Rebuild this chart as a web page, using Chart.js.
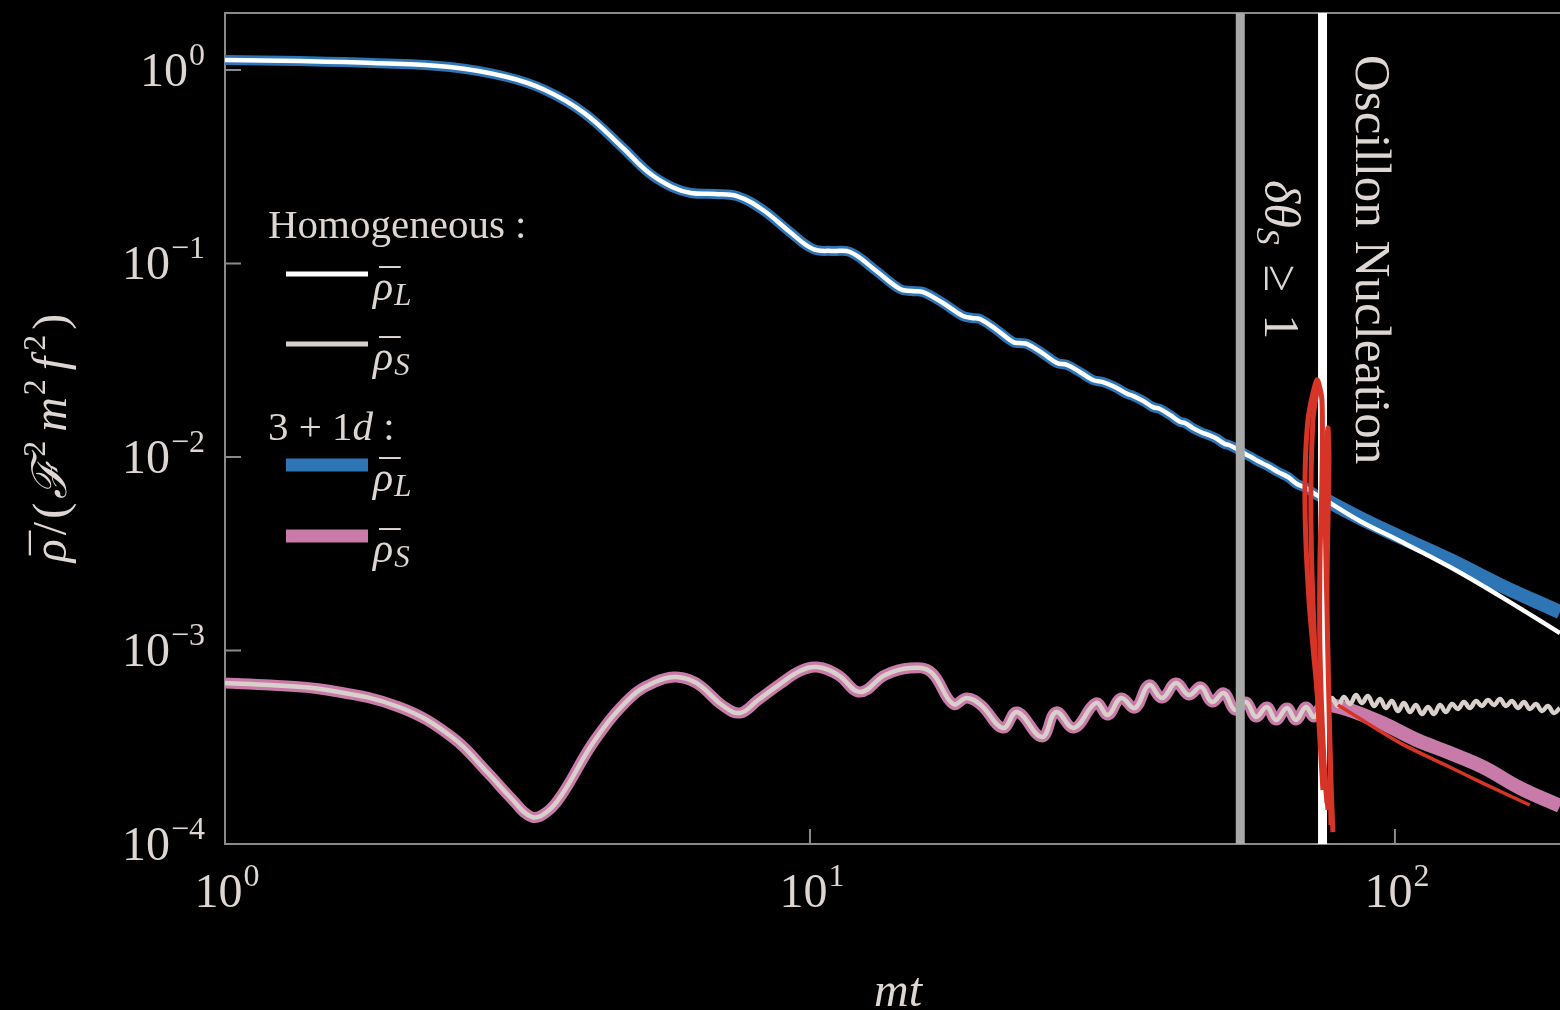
<!DOCTYPE html>
<html>
<head>
<meta charset="utf-8">
<script src="https://cdn.jsdelivr.net/npm/chart.js@4.4.1/dist/chart.umd.min.js"></script>
<style>
  html, body { margin: 0; padding: 0; background: #000; }
  #wrap { width: 1560px; height: 1010px; position: relative; }
</style>
</head>
<body>
<div id="wrap"><canvas id="rho"></canvas></div>
<script>
// rho_L before nucleation (homogeneous and 3+1d agree here)
const mtL = [1, 1.343, 1.791, 2.424, 3.034, 3.524, 4.109, 4.770, 5.306, 5.808, 6.26, 6.88, 7.50, 8.31, 9.24,
  10.12, 10.90, 11.71, 12.92, 14.25, 14.94, 15.61, 16.88, 18.26, 18.92, 19.53, 20.88, 22.23, 22.86, 23.49,
  24.93, 26.44, 27.50, 28.93, 30.46, 31.69, 33.22, 34.84, 35.66, 37.10, 38.59, 39.67, 41.25, 42.91, 43.75,
  45.15, 46.96, 47.70, 49.43, 51.21, 52.03, 53.70, 55.85, 56.74, 58.32, 60.66, 63.10, 65.64, 68.01, 70.45,
  72.98, 75.03];
const rhoL = [1.126, 1.113, 1.087, 1.036, 0.920, 0.788, 0.600, 0.400, 0.294, 0.2485, 0.2313, 0.2286, 0.2232, 0.189, 0.1455,
  0.1188, 0.116, 0.1147, 0.0926, 0.0738, 0.0721, 0.0712, 0.0625, 0.0535, 0.0523, 0.0516, 0.0453, 0.0393, 0.0388, 0.0384,
  0.0345, 0.0306, 0.0299, 0.0275, 0.0250, 0.0244, 0.0230, 0.0212, 0.0207, 0.0195, 0.0181, 0.0177, 0.0165, 0.0152, 0.0150,
  0.0141, 0.0133, 0.0131, 0.0125, 0.01167, 0.01153, 0.0110, 0.01024, 0.0100, 0.00953, 0.00898, 0.00837, 0.00788, 0.00725, 0.00692,
  0.00644, 0.00614];

// rho_L after nucleation
const mtLLate = [87.1, 102.0, 124.2, 151.2, 191.5];
const rhoLHomLate = [0.00467, 0.00368, 0.00270, 0.00191, 0.00123];
const rhoLLatLate = [0.00484, 0.00386, 0.00294, 0.00218, 0.00158];

// rho_S before nucleation
const mtS = [1, 1.194, 1.494, 1.983, 2.443, 2.816, 3.071, 3.348, 3.566, 3.782, 4.290, 4.943, 5.433, 5.855, 6.236,
  6.538, 7.071, 7.591, 8.151, 8.886, 9.614, 10.28, 11.17, 12.18, 13.44, 14.83, 16.10, 17.56, 18.55, 19.60,
  21.38, 22.59, 24.93, 26.34, 28.27, 30.83, 32.31, 34.02, 35.94, 37.98, 39.98, 42.23, 44.45, 46.60, 48.67,
  51.02, 53.28, 55.64, 57.87, 60.41, 62.61, 65.38, 67.74, 70.45, 72.69, 75.03];
const rhoS = [6.79e-4, 6.63e-4, 6.25e-4, 5.105e-4, 3.573e-4, 2.327e-4, 1.749e-4, 1.378e-4, 1.481e-4, 1.834e-4, 3.447e-4, 5.749e-4, 6.87e-4, 7.29e-4, 7.04e-4,
  6.48e-4, 5.228e-4, 4.754e-4, 5.548e-4, 6.71e-4, 7.83e-4, 8.21e-4, 7.47e-4, 6.10e-4, 7.47e-4, 8.12e-4, 7.74e-4, 5.29e-4, 5.681e-4, 5.228e-4,
  3.977e-4, 4.811e-4, 3.573e-4, 4.811e-4, 3.977e-4, 5.354e-4, 4.642e-4, 5.681e-4, 5.045e-4, 6.63e-4, 5.681e-4, 6.79e-4, 5.888e-4, 6.48e-4, 5.418e-4,
  6.03e-4, 4.926e-4, 5.418e-4, 4.533e-4, 5.105e-4, 4.374e-4, 5.045e-4, 4.374e-4, 5.105e-4, 4.533e-4, 5.166e-4];

// homogeneous rho_S keeps wiggling after nucleation
const mtSHomLate = [76.2, 78.0, 79.9, 81.8, 83.8, 85.8, 87.8, 89.9, 92.1, 94.3, 96.5, 98.8, 101.2, 103.6, 106.1,
  108.6, 111.2, 113.9, 116.6, 119.4, 122.2, 125.2, 128.1, 131.2, 134.3, 137.6, 140.8, 144.2, 147.7, 151.2,
  154.8, 158.5, 162.3, 166.2, 170.1, 174.2, 178.4, 182.6, 187.0, 191.4];
const rhoSHomLate = [5.105e-4, 5.681e-4, 5.166e-4, 5.749e-4, 5.290e-4, 5.888e-4, 5.354e-4, 5.818e-4, 5.166e-4, 5.614e-4,
  5.045e-4, 5.482e-4, 4.868e-4, 5.354e-4, 4.811e-4, 5.228e-4, 4.698e-4, 5.105e-4, 4.698e-4, 5.228e-4,
  4.811e-4, 5.290e-4, 4.985e-4, 5.418e-4, 5.045e-4, 5.482e-4, 5.166e-4, 5.548e-4, 5.228e-4, 5.614e-4,
  5.166e-4, 5.482e-4, 5.045e-4, 5.418e-4, 4.985e-4, 5.290e-4, 4.868e-4, 5.166e-4, 4.754e-4, 5.045e-4];

// 3+1d rho_S after nucleation
const mtSLatLate = [80.5, 94.3, 109.0, 124.2, 141.4, 163.6, 191.5];
const rhoSLatLate = [5.105e-4, 4.27e-4, 3.447e-4, 2.953e-4, 2.50e-4, 1.948e-4, 1.572e-4];

// red hand-drawn marks
const redLoopMt = [76.53, 73.86, 71.29, 70.17, 71.01, 73.57, 75.03, 75.03, 74.44, 74.44, 75.61, 76.83];
const redLoopRho = [1.628e-4, 5.548e-4, 1.824e-3, 6.0e-3, 0.01553, 0.0250, 0.0197, 0.0076, 0.00294, 1.006e-3, 2.717e-4, 1.5e-4];
const redInnerMt = [75.32, 72.98, 71.84, 72.41, 73.86];
const redInnerRho = [1.901e-4, 1.006e-3, 0.00472, 0.01553, 0.02355];
const redSpikeMt = [77.73, 77.13, 76.22, 75.92, 76.83, 77.13, 76.53, 77.73, 78.34];
const redSpikeRho = [1.253e-4, 5.548e-4, 0.00294, 0.00857, 0.0141, 0.00965, 1.824e-3, 2.142e-4, 1.153e-4];
const redTailMt = [79.9, 102, 124, 141, 170];
const redTailRho = [5.23e-4, 3.33e-4, 2.50e-4, 2.07e-4, 1.59e-4];

// vertical markers: delta theta_S >= 1, oscillon nucleation
const markerMt = [54.4, 75.2];

const xTickExps = [0, 1, 2];
const yTickExps = [0, -1, -2, -3, -4];

const X_MIN = 1, X_MAX = 191.5, Y_MIN = 1e-4, Y_MAX = 1.97;
const SERIF = '"Liberation Serif", "Times New Roman", "DejaVu Serif", serif';
const INK = "#ddd6d2";
const BLUE = "#2e75b6", PINK = "#c87aa8", HOMS = "#d9d0cc", RED = "#d63427";

const pts = (xs, ys) => xs.map((x, i) => ({ x, y: ys[i] }));

// draw text pieces left to right; a piece with bar:true gets a macron over it
function drawRun(ctx, parts, x, y) {
  for (const p of parts) {
    ctx.font = p.font;
    const w = ctx.measureText(p.t).width;
    ctx.fillText(p.t, x, y + (p.dy || 0));
    if (p.bar) {
      const size = parseFloat(p.font.match(/(\d+)px/)[1]);
      const m = ctx.measureText("\u00AF");
      const top = y - 0.8 * size;
      const cx = x + w / 2 + 0.08 * size;
      ctx.fillText("\u00AF", cx - m.width / 2, top + m.actualBoundingBoxAscent);
    }
    x += w + (p.gap || 0);
  }
  return x;
}
function runWidth(ctx, parts) {
  let w = 0;
  for (const p of parts) {
    ctx.font = p.font;
    w += ctx.measureText(p.t).width + (p.gap || 0);
  }
  return w;
}
function power(e) {
  return [
    { t: "10", font: `48px ${SERIF}`, gap: 1 },
    { t: e < 0 ? "\u2212" + (-e) : String(e), font: `32px ${SERIF}`, dy: -21 }
  ];
}

const frame = {
  id: "frame",
  beforeDatasetsDraw(chart) {
    const { ctx, chartArea: a, scales } = chart;
    ctx.save();
    ctx.strokeStyle = "#8a8a8a";
    ctx.lineWidth = 2;
    ctx.beginPath();
    ctx.moveTo(a.right + 2, a.top);
    ctx.lineTo(a.left, a.top);
    ctx.lineTo(a.left, a.bottom);
    ctx.lineTo(a.right + 2, a.bottom);
    for (const e of yTickExps) {
      const py = scales.y.getPixelForValue(Math.pow(10, e));
      ctx.moveTo(a.left, py);
      ctx.lineTo(a.left + 16, py);
    }
    for (const e of xTickExps) {
      const px = scales.x.getPixelForValue(Math.pow(10, e));
      ctx.moveTo(px, a.bottom);
      ctx.lineTo(px, a.bottom - 15);
    }
    ctx.stroke();
    ctx.restore();
  },
  afterDraw(chart) {
    const { ctx, chartArea: a, scales } = chart;
    ctx.save();
    ctx.fillStyle = INK;
    ctx.textBaseline = "alphabetic";
    ctx.textAlign = "left";

    for (const e of yTickExps) {
      const py = scales.y.getPixelForValue(Math.pow(10, e));
      const parts = power(e);
      drawRun(ctx, parts, a.left - 20 - runWidth(ctx, parts), py + 16);
    }
    for (const e of xTickExps) {
      const px = scales.x.getPixelForValue(Math.pow(10, e));
      const parts = power(e);
      drawRun(ctx, parts, px - runWidth(ctx, parts) / 2 + 2, a.bottom + 63);
    }

    // axis titles
    const xt = [{ t: "mt", font: `italic 48px ${SERIF}` }];
    drawRun(ctx, xt, 898 - runWidth(ctx, xt) / 2, 1006);

    const sup = `32px ${SERIF}`, it = `italic 48px ${SERIF}`, rm = `48px ${SERIF}`;
    const yt = [
      { t: "\u03C1", font: it, bar: true, gap: 4 },
      { t: "/", font: rm, gap: 3 },
      { t: "(", font: rm, gap: 4 },
      { t: "\u2131", font: it, gap: 2 },
      { t: "2", font: sup, dy: -21, gap: 9 },
      { t: "m", font: it, gap: 2 },
      { t: "2", font: sup, dy: -21, gap: 9 },
      { t: "f", font: it, gap: 6 },
      { t: "2", font: sup, dy: -21, gap: 5 },
      { t: ")", font: rm }
    ];
    ctx.save();
    ctx.translate(66, 438);
    ctx.rotate(-Math.PI / 2);
    drawRun(ctx, yt, -runWidth(ctx, yt) / 2, 0);
    ctx.restore();

    // vertical annotations
    ctx.save();
    ctx.translate(1356, 55);
    ctx.rotate(Math.PI / 2);
    ctx.font = `51px ${SERIF}`;
    ctx.fillText("Oscillon Nucleation", 0, 0);
    ctx.restore();

    ctx.save();
    ctx.translate(1265, 180);
    ctx.rotate(Math.PI / 2);
    drawRun(ctx, [
      { t: "\u03B4\u03B8", font: `italic 50px ${SERIF}` },
      { t: "S", font: `italic 34px ${SERIF}`, dy: 8, gap: 20 },
      { t: "\u2265", font: `50px ${SERIF}`, gap: 22 },
      { t: "1", font: `50px ${SERIF}` }
    ], 0, 0);
    ctx.restore();

    // legend
    const lf = `41px ${SERIF}`;
    drawRun(ctx, [{ t: "Homogeneous :", font: lf }], 268, 238);
    drawRun(ctx, [{ t: "3 + 1", font: lf }, { t: "d", font: `italic 41px ${SERIF}` }, { t: " :", font: lf }], 268, 440);
    const rows = [
      { y: 274, color: "#ffffff", w: 5, sub: "L" },
      { y: 344, color: HOMS, w: 5, sub: "S" },
      { y: 465, color: BLUE, w: 13, sub: "L" },
      { y: 536, color: PINK, w: 13, sub: "S" }
    ];
    for (const r of rows) {
      ctx.strokeStyle = r.color;
      ctx.lineWidth = r.w;
      ctx.beginPath();
      ctx.moveTo(286, r.y);
      ctx.lineTo(368, r.y);
      ctx.stroke();
      drawRun(ctx, [
        { t: "\u03C1", font: `italic 42px ${SERIF}`, bar: true, gap: 1 },
        { t: r.sub, font: `italic 31px ${SERIF}`, dy: 5 }
      ], 373, r.y + 26);
    }
    ctx.restore();
  }
};

const line = (data, color, width, order, extra) => Object.assign({
  data, borderColor: color, borderWidth: width, showLine: true, pointRadius: 0,
  tension: 0.4, fill: false, clip: 0, order
}, extra || {});

const lateWidth = (early, late) => ({ borderWidth: c => c.p0.parsed.x >= 75 ? late : early });

new Chart(document.getElementById("rho"), {
  type: "scatter",
  data: {
    datasets: [
      line(pts(redTailMt, redTailRho), RED, 3.5, 0, { tension: 0.3 }),
      line(pts(redLoopMt, redLoopRho), RED, 5, 0, { tension: 0.25 }),
      line(pts(redInnerMt, redInnerRho), RED, 5, 0, { tension: 0.25 }),
      line(pts(redSpikeMt, redSpikeRho), RED, 5, 0, { tension: 0.25 }),
      line(pts([markerMt[0], markerMt[0]], [Y_MIN, Y_MAX]), "#a9a9a9", 9, 1, { tension: 0 }),
      line(pts([markerMt[1], markerMt[1]], [Y_MIN, Y_MAX]), "#ffffff", 9, 1, { tension: 0 }),
      line(pts(mtL.concat(mtLLate), rhoL.concat(rhoLHomLate)), "#ffffff", 4.5, 2),
      line(pts(mtL.concat(mtLLate), rhoL.concat(rhoLLatLate)), BLUE, 10, 3, { segment: lateWidth(10, 14) }),
      line(pts(mtS.concat(mtSHomLate), rhoS.concat(rhoSHomLate)), HOMS, 4.5, 4),
      line(pts(mtS.concat(mtSLatLate), rhoS.concat(rhoSLatLate)), PINK, 11, 5, { segment: lateWidth(11, 14) })
    ]
  },
  options: {
    animation: false,
    responsive: true,
    maintainAspectRatio: false,
    layout: { padding: { top: 13, left: 0, right: 0, bottom: 0 } },
    plugins: { legend: { display: false }, tooltip: { enabled: false } },
    events: [],
    scales: {
      x: {
        type: "logarithmic", min: X_MIN, max: X_MAX, bounds: "data",
        ticks: { display: false }, grid: { display: false }, border: { display: false },
        afterFit: s => { s.height = 166; }
      },
      y: {
        type: "logarithmic", min: Y_MIN, max: Y_MAX, bounds: "data",
        ticks: { display: false }, grid: { display: false }, border: { display: false },
        afterFit: s => { s.width = 225; }
      }
    }
  },
  plugins: [frame]
});
</script>
</body>
</html>
